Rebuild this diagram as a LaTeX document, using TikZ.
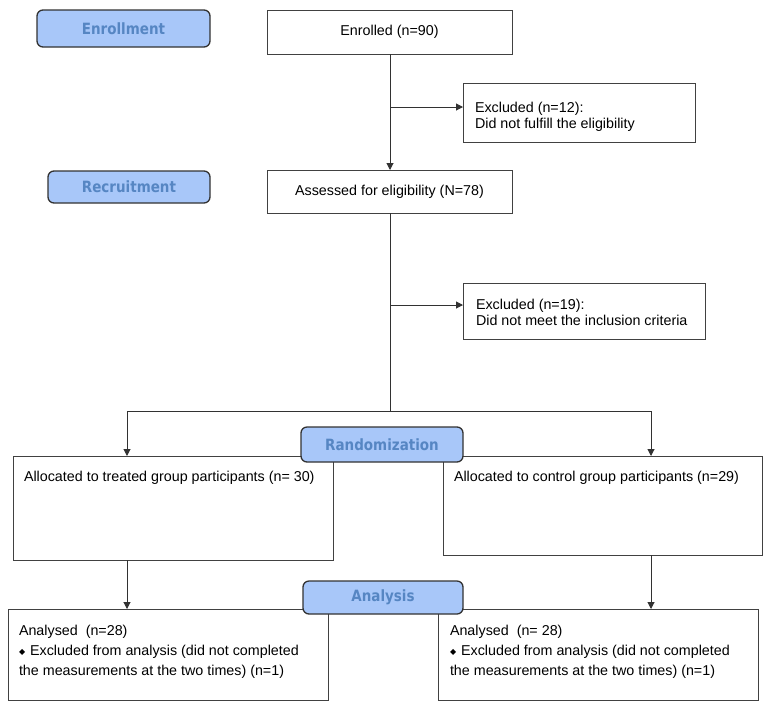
\documentclass[tikz,border=0pt]{standalone}
\usepackage{fontspec}
\setmainfont{Liberation Sans}
\newfontfamily\labfont{DejaVu Sans}[FakeStretch=0.87]
\newfontfamily\diafont{DejaVu Sans}
\usetikzlibrary{arrows.meta}
\definecolor{labfill}{RGB}{168,199,249}
\definecolor{labtext}{RGB}{86,134,195}
\definecolor{linec}{RGB}{50,50,50}
\definecolor{boxc}{RGB}{65,65,65}
% width, height, left pad, top pad, text
\newcommand{\bt}[5]{\parbox[c][#2][t]{#1}{\raggedright\leftskip=#3\relax\vspace*{#4}#5}}
\newcommand{\dia}{{\diafont\fontsize{8}{8}\selectfont\raisebox{0.5pt}{◆}}\hspace{5pt}}
\begin{document}
\begin{tikzpicture}[x=1pt,y=-1pt,
  box/.style={draw=boxc, line width=1pt, fill=white, inner sep=0pt, outer sep=0pt, anchor=north west,
    font=\fontsize{14.3}{16}\selectfont},
  cbox/.style={box, align=center},
  lab/.style={draw=linec, line width=1.3pt, fill=labfill, rounded corners=6pt, inner sep=0pt, outer sep=0pt,
    anchor=north west, text=labtext, font=\labfont\bfseries\fontsize{15.5}{17}\selectfont},
  arr/.style={draw=linec, line width=1pt, -{Triangle[length=7pt,width=7pt]}},
  ln/.style={draw=linec, line width=1pt}]
\useasboundingbox (0,0) rectangle (767,710);

% boxes
\node[cbox, minimum width=245pt, minimum height=44pt] (enr) at (267,10) {Enrolled (n=90)};
\node[box] (exc1) at (463,83) {\bt{232pt}{59pt}{12pt}{19.5pt}{Excluded (n=12):\\Did not fulfill the eligibility}};
\node[cbox, minimum width=245pt, minimum height=43pt] (ass) at (267,170) {Assessed for eligibility (N=78)};
\node[box] (exc2) at (463,283) {\bt{242pt}{56pt}{13pt}{16pt}{Excluded (n=19):\\Did not meet the inclusion criteria}};
\node[box] (al1) at (13,456) {\bt{320pt}{104pt}{11pt}{15pt}{Allocated to treated group participants (n= 30)}};
\node[box] (al2) at (443,456) {\bt{319pt}{99pt}{11pt}{15pt}{Allocated to control group participants (n=29)}};
\node[box, font=\fontsize{14.3}{20}\selectfont] (an1) at (8,609) {\bt{320pt}{91pt}{11pt}{16pt}{Analysed\ \ (n=28)\\\dia Excluded from analysis (did not completed\\the measurements at the two times) (n=1)}};
\node[box, font=\fontsize{14.3}{20}\selectfont] (an2) at (438,609) {\bt{320pt}{91pt}{12pt}{16pt}{Analysed\ \ (n= 28)\\\dia Excluded from analysis (did not completed\\the measurements at the two times) (n=1)}};

% connectors
\coordinate (b1) at (390,107);
\coordinate (b2) at (390,305);
\coordinate (split) at (390,411);
\coordinate (sl) at (127,411);
\coordinate (sr) at (651,411);
\draw[arr] (enr.south -| b1) -- (ass.north -| b1);
\draw[arr] (b1) -- (b1 -| exc1.west);
\draw[ln] (ass.south -| split) -- (split);
\draw[arr] (b2) -- (b2 -| exc2.west);
\draw[ln] (sl) -- (sr);
\draw[arr] (sl) -- (sl |- al1.north);
\draw[arr] (sr) -- (sr |- al2.north);
\draw[arr] (al1.south -| sl) -- (an1.north -| sl);
\draw[arr] (al2.south -| sr) -- (an2.north -| sr);

% phase labels
\node[lab, minimum width=173pt, minimum height=37pt] (lenr) at (37,10) {Enrollment};
\node[lab, minimum width=162pt, minimum height=32pt] (lrec) at (48,171) {Recruitment};
\node[lab, minimum width=162pt, minimum height=35pt] (lran) at (301,427) {Randomization};
\node[lab, minimum width=160pt, minimum height=33pt] (lana) at (303,581) {Analysis};
\end{tikzpicture}
\end{document}
